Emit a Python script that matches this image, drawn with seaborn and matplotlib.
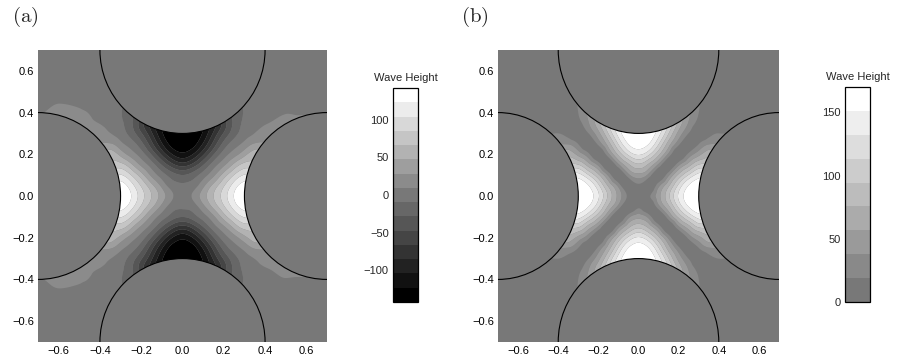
import numpy as np
import matplotlib
matplotlib.use("Agg")
import matplotlib.pyplot as plt
import matplotlib.tri as mtri
import seaborn as sns
from matplotlib.patches import Circle

# ---------------- data ----------------
# quadrant grid coordinates (step 0.05), used for x and y
coords = [0.00, 0.05, 0.10, 0.15, 0.20, 0.25, 0.30, 0.35,
          0.40, 0.45, 0.50, 0.55, 0.60, 0.65, 0.70]

# panel (a) wave height, upper-right quadrant: rows y = 0 .. 0.7, cols x = 0 .. 0.7
a_right = [
    [0, 12, 38, 66, 94, 124, 142, 142, 142, 142, 142, 142, 142, 142, 142],
    [-6, 0, 23, 53, 83, 113, 132, 132, 132, 132, 132, 132, 132, 132, 132],
    [-28, -19, 0, 24, 56, 86, 106, 106, 106, 106, 106, 106, 106, 106, 106],
    [-75, -60, -30, 0, 24, 52, 73, 73, 73, 73, 73, 73, 73, 73, 73],
    [-118, -104, -70, -30, 0, 20, 41, 58, 58, 58, 58, 58, 58, 58, 58],
    [-138, -131, -102, -60, -22, 0, 15, 30, 30, 30, 30, 30, 30, 30, 30],
    [-141, -139, -120, -82, -45, -17, 0, 10, 19, 19, 19, 19, 19, 19, 19],
    [-141, -140, -125, -95, -58, -24, -6, 0, 7, 13, 18, 18, 18, 18, 18],
    [-141, -140, -120, -85, -45, -22, -8, -2, 0, 4, 8, 7, 6, 3, 0],
    [-141, -135, -110, -70, -32, -15, -7, -3, -1, 0, 2, 3, 2, 1, 0],
    [-141, -130, -95, -50, -22, -10, -5, 0, 0, 0, 0, 0, 0, 0, 0],
    [-141, -130, -95, -50, -22, -10, -5, 0, 0, 0, 0, 0, 0, 0, 0],
    [-141, -130, -95, -50, -22, -10, -5, 0, 0, 0, 0, 0, 0, 0, 0],
    [-141, -130, -95, -50, -22, -10, -5, 0, 0, 0, 0, 0, 0, 0, 0],
    [-141, -130, -95, -50, -22, -10, -5, 0, 0, 0, 0, 0, 0, 0, 0],
]
# panel (a) upper-left quadrant: rows y = 0 .. 0.7, cols |x| = 0 .. 0.7
a_left = [
    [0, 12, 38, 66, 94, 124, 142, 142, 142, 142, 142, 142, 142, 142, 142],
    [-6, 0, 23, 53, 83, 113, 132, 132, 132, 132, 132, 132, 132, 132, 132],
    [-28, -19, 0, 24, 56, 86, 106, 106, 106, 106, 106, 106, 106, 106, 106],
    [-75, -60, -30, 0, 24, 52, 73, 73, 73, 73, 73, 73, 73, 73, 73],
    [-118, -104, -70, -30, 0, 20, 41, 58, 58, 58, 58, 58, 58, 58, 58],
    [-138, -131, -102, -60, -22, 0, 15, 30, 30, 30, 30, 30, 30, 30, 30],
    [-141, -139, -120, -82, -45, -17, 0, 10, 20, 22, 22, 22, 22, 22, 22],
    [-141, -140, -125, -95, -58, -24, -6, 0, 8, 15, 20, 20, 20, 20, 20],
    [-141, -140, -120, -85, -45, -22, -8, -2, 0, 8, 13, 15, 16, 12, 6],
    [-141, -135, -110, -70, -32, -15, -7, -3, -1, 0, 5, 7, 8, 5, 2],
    [-141, -130, -95, -50, -22, -10, -5, 0, 0, 0, 0, 0, 0, 0, 0],
    [-141, -130, -95, -50, -22, -10, -5, 0, 0, 0, 0, 0, 0, 0, 0],
    [-141, -130, -95, -50, -22, -10, -5, 0, 0, 0, 0, 0, 0, 0, 0],
    [-141, -130, -95, -50, -22, -10, -5, 0, 0, 0, 0, 0, 0, 0, 0],
    [-141, -130, -95, -50, -22, -10, -5, 0, 0, 0, 0, 0, 0, 0, 0],
]
# panel (b) wave height, upper-right quadrant (same layout)
b_quad = [
    [0, 14, 50, 90, 135, 162, 170, 170, 170, 170, 170, 170, 170, 170, 170],
    [14, 0, 31, 72, 118, 152, 166, 166, 166, 166, 166, 166, 166, 166, 166],
    [50, 31, 0, 33, 80, 115, 140, 140, 140, 140, 140, 140, 140, 140, 140],
    [90, 72, 33, 0, 32, 66, 95, 95, 95, 95, 95, 95, 95, 95, 95],
    [135, 118, 80, 32, 0, 24, 50, 70, 70, 70, 70, 70, 70, 70, 70],
    [162, 152, 115, 66, 24, 0, 18, 36, 36, 36, 36, 36, 36, 36, 36],
    [170, 166, 140, 95, 50, 18, 0, 11, 19, 19, 19, 19, 19, 19, 19],
    [170, 170, 150, 112, 70, 36, 11, 0, 5, 8, 6, 6, 6, 6, 6],
    [170, 170, 150, 115, 73, 42, 19, 5, 0, 2, 0, 0, 0, 0, 0],
    [170, 170, 150, 112, 65, 39, 20, 8, 2, 0, 0, 0, 0, 0, 0],
    [170, 170, 145, 100, 60, 30, 16, 6, 0, 0, 0, 0, 0, 0, 0],
    [170, 170, 145, 100, 60, 30, 16, 6, 0, 0, 0, 0, 0, 0, 0],
    [170, 170, 145, 100, 60, 30, 16, 6, 0, 0, 0, 0, 0, 0, 0],
    [170, 170, 145, 100, 60, 30, 16, 6, 0, 0, 0, 0, 0, 0, 0],
    [170, 170, 145, 100, 60, 30, 16, 6, 0, 0, 0, 0, 0, 0, 0],
]

a_levels = np.linspace(-142, 142, 16)
b_levels = np.linspace(0, 170, 10)
a_grays = [0, 17, 34, 51, 69, 86, 103, 120, 139, 158, 178, 197, 216, 236, 255]
b_grays = [120, 137, 154, 171, 188, 204, 221, 238, 255]
a_ticks = [-100, -50, 0, 50, 100]
b_ticks = [0, 50, 100, 150]
axis_ticks = [-0.6, -0.4, -0.2, 0.0, 0.2, 0.4, 0.6]
circle_centers = [(0.7, 0.0), (-0.7, 0.0), (0.0, 0.7), (0.0, -0.7)]
circle_radius = 0.4
panel_labels = ["(a)", "(b)"]
cbar_title = "Wave Height"

# ---------------- helpers ----------------
def assemble(right, left):
    R = np.array(right, float)
    L = np.array(left, float)
    upper = np.hstack([L[:, :0:-1], R])
    return np.vstack([upper[:0:-1], upper])

c = np.array(coords)
axis_vals = np.concatenate([-c[:0:-1], c])
X, Y = np.meshgrid(axis_vals, axis_vals)
triang = mtri.Triangulation(X.ravel(), Y.ravel())
refiner = mtri.UniformTriRefiner(triang)

def hexgray(g):
    return "#{0:02x}{0:02x}{0:02x}".format(int(g))

# ---------------- figure ----------------
sns.set_theme(style="white")
plt.rcParams["font.family"] = ["Liberation Sans", "DejaVu Sans"]
plt.rcParams["mathtext.fontset"] = "cm"
plt.rcParams["axes.unicode_minus"] = True

W, H = 898, 360
fig = plt.figure(figsize=(W / 100, H / 100), dpi=100)
fig.patch.set_facecolor("white")

panels = [
    dict(Z=assemble(a_right, a_left), levels=a_levels, grays=a_grays, ticks=a_ticks,
         ax=(38, 50, 327, 342), cax=(393, 88, 418, 302), label=panel_labels[0], lab_x=25),
    dict(Z=assemble(b_quad, b_quad), levels=b_levels, grays=b_grays, ticks=b_ticks,
         ax=(498, 50, 779, 342), cax=(845, 87, 870, 302), label=panel_labels[1], lab_x=475),
]

def rect(px):
    x0, y0, x1, y1 = px
    return [x0 / W, 1 - y1 / H, (x1 - x0) / W, (y1 - y0) / H]

for p in panels:
    ax = fig.add_axes(rect(p["ax"]))
    colors = [hexgray(g) for g in p["grays"]]
    lv = p["levels"]
    bg = colors[int(np.searchsorted(lv, 0.0, side="right")) - 1] if lv[0] < 0 else colors[0]
    ax.set_facecolor(bg)
    tri_f, z_f = refiner.refine_field(p["Z"].ravel(), subdiv=3)
    z_f = np.clip(z_f, lv[0], lv[-1])
    cs = ax.tricontourf(tri_f, z_f, levels=lv, colors=colors, antialiased=True)
    for (cx, cy) in circle_centers:
        ax.add_patch(Circle((cx, cy), circle_radius, facecolor=bg, edgecolor="black",
                            lw=0.8, zorder=3))
    ax.set_xlim(-0.7, 0.7)
    ax.set_ylim(-0.7, 0.7)
    ax.set_xticks(axis_ticks)
    ax.set_yticks(axis_ticks)
    ax.set_xticklabels([f"{t:.1f}".replace("-", "\u2212") for t in axis_ticks])
    ax.set_yticklabels([f"{t:.1f}".replace("-", "\u2212") for t in axis_ticks])
    ax.tick_params(length=0, labelsize=8, pad=3, colors="black")
    sns.despine(ax=ax, left=True, bottom=True)

    cax = fig.add_axes(rect(p["cax"]))
    cb = fig.colorbar(cs, cax=cax, orientation="vertical")
    cb.set_ticks(p["ticks"])
    cb.set_ticklabels([str(t).replace("-", "\u2212") for t in p["ticks"]])
    cb.outline.set_edgecolor("black")
    cb.outline.set_linewidth(0.9)
    cax.tick_params(axis="y", left=False, right=True, labelleft=True, labelright=False,
                    direction="in", length=3, width=0.6, labelsize=8, pad=3)
    cax.set_title(cbar_title, fontsize=8, pad=5)

    fig.text(p["lab_x"] / W, 1 - 17 / H, r"$\mathrm{" + p["label"] + "}$",
             fontsize=15, ha="center", va="center")

fig.savefig("out.png", dpi=100)
